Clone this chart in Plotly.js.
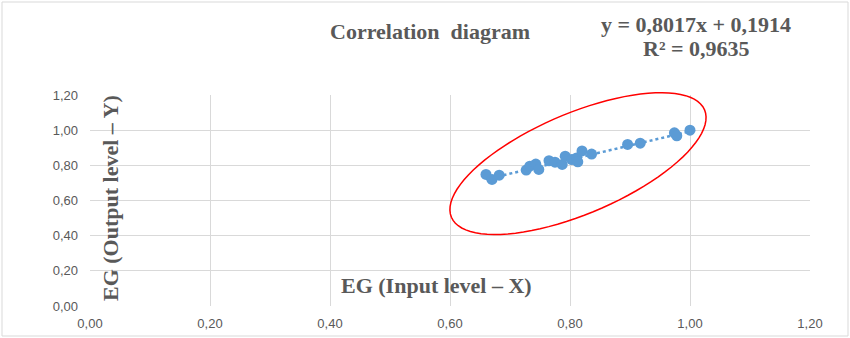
<!DOCTYPE html>
<html>
<head>
<meta charset="utf-8">
<script src="https://cdn.plot.ly/plotly-3.0.1.min.js"></script>
<style>html,body{margin:0;padding:0;background:#fff}#chart{width:850px;height:338px}</style>
</head>
<body>
<div id="chart"></div>
<script>
// Data
const inputX = [0.660, 0.670, 0.682, 0.727, 0.733, 0.743, 0.748, 0.765, 0.775, 0.787, 0.792, 0.803, 0.811, 0.813, 0.820, 0.836, 0.896, 0.917, 0.974, 0.978, 1.000];
const outputY = [0.748, 0.720, 0.744, 0.773, 0.795, 0.807, 0.777, 0.826, 0.818, 0.805, 0.852, 0.833, 0.842, 0.820, 0.882, 0.864, 0.919, 0.926, 0.985, 0.968, 1.000];
const slope = 0.8017;
const intercept = 0.1914;
const rSquared = "0,9635";
const tickVals = [0, 0.2, 0.4, 0.6, 0.8, 1.0, 1.2];

const fmt = v => v.toFixed(4).replace('.', ',');
const xMin = Math.min(...inputX), xMax = Math.max(...inputX);
const trendX = [xMin, xMax];
const trendY = trendX.map(x => slope * x + intercept);

// Ellipse highlight (paper units, so it is not clipped at the plot edge)
const W = 850, H = 338, mL = 90, mR = 40, mT = 95, mB = 32;
const pw = W - mL - mR, ph = H - mT - mB;
const ec = {x: 0.8133 / 1.2, y: 0.810 / 1.2}, ea = 137.5, eb = 50.3, eth = -23 * Math.PI / 180;
let path = '';
for (let i = 0; i <= 90; i++) {
  const t = i / 90 * 2 * Math.PI;
  const dx = ea * Math.cos(t) * Math.cos(eth) - eb * Math.sin(t) * Math.sin(eth);
  const dy = ea * Math.cos(t) * Math.sin(eth) + eb * Math.sin(t) * Math.cos(eth);
  const X = ec.x + dx / pw, Y = ec.y - dy / ph;
  path += (i === 0 ? 'M' : 'L') + X.toFixed(5) + ',' + Y.toFixed(5);
}
path += 'Z';

const blue = '#5b9bd5', gray = '#595959', grid = '#d9d9d9';
const serif = 'Liberation Serif, Times New Roman, serif';
const px = v => (v - mL) / pw, py = v => (H - mB - v) / ph;

const traces = [
  {x: trendX, y: trendY, mode: 'lines', type: 'scatter', line: {color: blue, width: 2.5, dash: 'dot'}, hoverinfo: 'skip', showlegend: false},
  {x: inputX, y: outputY, mode: 'markers', type: 'scatter', marker: {color: blue, size: 11}, showlegend: false}
];

const axisCommon = {
  range: [0, 1.2], tickvals: tickVals, tickformat: '.2f', showgrid: true, gridcolor: grid, gridwidth: 1,
  zeroline: false, showline: false, ticks: '', fixedrange: true,
  tickfont: {family: 'Liberation Sans, Arial, sans-serif', size: 13, color: gray}
};

const tf = {family: serif, size: 22, color: gray};
const layout = {
  width: W, height: H, separators: ', ',
  margin: {l: mL, r: mR, t: mT, b: mB, pad: 0},
  paper_bgcolor: '#fff', plot_bgcolor: '#fff',
  xaxis: Object.assign({}, axisCommon, {ticklabelstandoff: 8}),
  yaxis: Object.assign({}, axisCommon, {ticklabelstandoff: 11}),
  shapes: [
    {type: 'path', path: path, xref: 'paper', yref: 'paper', line: {color: '#ff0000', width: 1.5}},
    {type: 'rect', xref: 'paper', yref: 'paper', x0: px(2), x1: px(848), y0: py(336), y1: py(2), line: {color: grid, width: 1}}
  ],
  annotations: [
    {text: '<b>Correlation&nbsp; diagram</b>', xref: 'paper', yref: 'paper', x: px(430), y: py(32),
     showarrow: false, font: tf, xanchor: 'center', yanchor: 'middle'},
    {text: '<b>y = ' + fmt(slope) + 'x + ' + fmt(intercept) + '</b>', xref: 'paper', yref: 'paper', x: px(696), y: py(24),
     showarrow: false, font: tf, xanchor: 'center', yanchor: 'middle'},
    {text: '<b>R² = ' + rSquared + '</b>', xref: 'paper', yref: 'paper', x: px(696), y: py(48),
     showarrow: false, font: tf, xanchor: 'center', yanchor: 'middle'},
    {text: '<b>EG (Input level – X)</b>', xref: 'paper', yref: 'paper', x: px(436), y: py(285),
     showarrow: false, font: tf, xanchor: 'center', yanchor: 'middle'},
    {text: '<b>EG (Output level – Y)</b>', xref: 'paper', yref: 'paper', x: px(110), y: py(198),
     showarrow: false, textangle: -90, font: tf, xanchor: 'center', yanchor: 'middle'}
  ]
};

Plotly.newPlot('chart', traces, layout, {displayModeBar: false, staticPlot: true});
</script>
</body>
</html>
